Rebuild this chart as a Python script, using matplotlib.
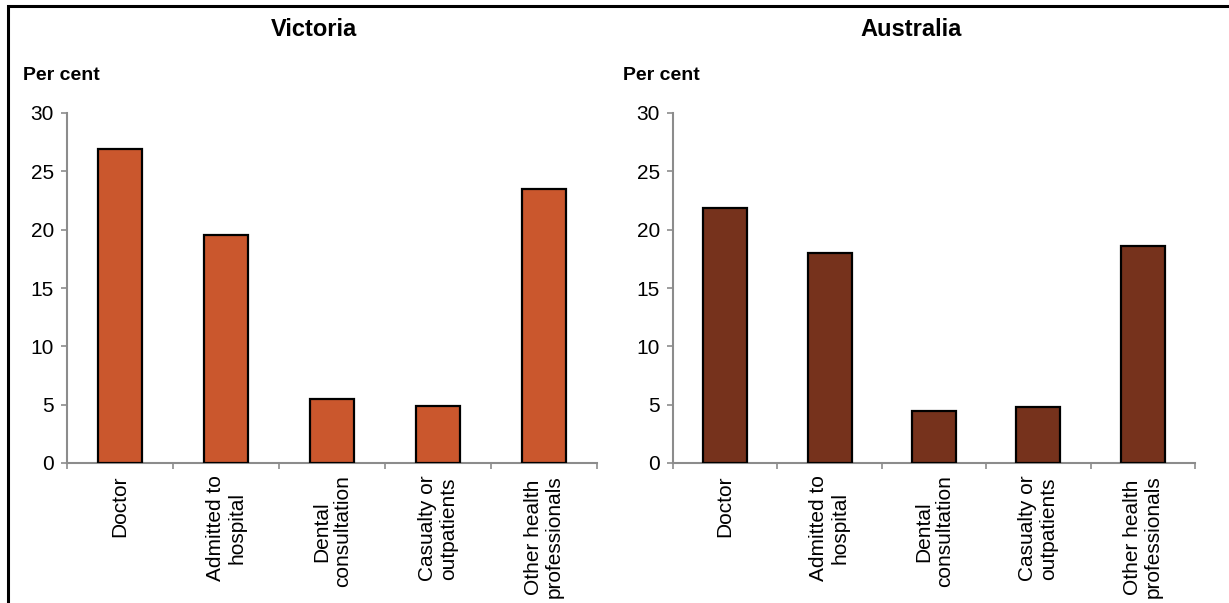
import numpy as np
import matplotlib.pyplot as plt
from matplotlib.patches import Rectangle

plt.rcParams['font.family'] = ['Liberation Sans', 'DejaVu Sans']

categories = ['Doctor', 'Admitted to\nhospital', 'Dental\nconsultation',
              'Casualty or\noutpatients', 'Other health\nprofessionals']
victoria = [26.9, 19.5, 5.5, 4.9, 23.5]
australia = [21.9, 18.0, 4.5, 4.8, 18.6]
panels = ['Victoria', 'Australia']
colours = ['#CA572D', '#76321C']
yticks = [0, 5, 10, 15, 20, 25, 30]

fig = plt.figure(figsize=(12.29, 6.03), dpi=100)
W, H = 1229, 603

# frame round the whole chart (cut off at right and bottom like the original)
fig.patches.append(Rectangle((8 / W, -0.1), 1.2, (597 + 60) / H, transform=fig.transFigure,
                             fill=False, edgecolor='black', linewidth=2.2, clip_on=False))

axes_px = [(67, 530), (673, 522)]
title_x = [314, 911]
percent_x = [23, 623]
grey = '#8C8C8C'

for k, (vals, name, col) in enumerate(zip([victoria, australia], panels, colours)):
    x0, w = axes_px[k]
    ax = fig.add_axes([x0 / W, (H - 463) / H, w / W, 350 / H])
    x = np.arange(len(categories))
    ax.bar(x, vals, width=0.42, color=col, edgecolor='black', linewidth=1.6, zorder=3)
    ax.set_xlim(-0.5, len(categories) - 0.5)
    ax.set_ylim(0, 30)
    ax.set_yticks(yticks)
    ax.tick_params(axis='y', labelsize=15, length=4.5, width=1.2, color=grey, pad=5)
    # boundary ticks, labels at centres
    ax.set_xticks(np.arange(-0.5, len(categories), 1.0))
    ax.set_xticklabels([])
    ax.tick_params(axis='x', which='major', length=4.5, width=1.2, color=grey)
    ax.set_xticks(x, minor=True)
    ax.set_xticklabels(categories, minor=True, rotation=90, fontsize=15,
                       va='top', ha='center', linespacing=1.15)
    ax.tick_params(axis='x', which='minor', length=0, pad=9)
    for s in ['top', 'right']:
        ax.spines[s].set_visible(False)
    for s in ['left', 'bottom']:
        ax.spines[s].set_color(grey)
        ax.spines[s].set_linewidth(1.5)
    fig.text(title_x[k] / W, 1 - 30 / H, name, ha='center', va='center',
             fontsize=17, fontweight='bold')
    fig.text(percent_x[k] / W, 1 - 75 / H, 'Per cent', ha='left', va='center',
             fontsize=14, fontweight='bold')

fig.savefig('out.png', dpi=100)
